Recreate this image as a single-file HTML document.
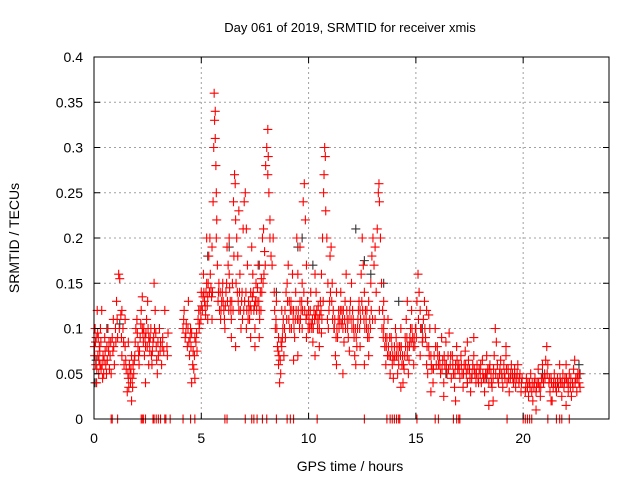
<!DOCTYPE html>
<html><head><meta charset="utf-8"><style>
body{margin:0;background:#fff}
svg{display:block;font-family:"Liberation Sans",sans-serif}
</style></head><body>
<svg id="chart" width="640" height="480">
<rect width="640" height="480" fill="#fff"/>
<g id="grid"></g>
<g id="marks"></g>
<rect x="94" y="57" width="515" height="362" fill="none" stroke="#000" stroke-width="1"/>
<g id="ticks"></g>
<text x="350" y="32" font-size="13" text-anchor="middle">Day 061 of 2019, SRMTID for receiver xmis</text>
<text x="350" y="471" font-size="14" text-anchor="middle">GPS time / hours</text>
<text x="19" y="238" font-size="14" text-anchor="middle" transform="rotate(-90 19 238)">SRMTID / TECUs</text>
</svg>
<script>
const xTicks=[0,5,10,15,20];
const yTicks=[0,0.05,0.1,0.15,0.2,0.25,0.3,0.35,0.4];
const yTickLabels=["0","0.05","0.1","0.15","0.2","0.25","0.3","0.35","0.4"];
const blackPts=[[0.05,.04],[0.1,.065],[0.6,.1],[1.2,.105],[5.3,.18],[6.3,.19],[7.7,.17],[9.5,.19],[9.7,.2],[10.2,.17],[12.2,.21],[12.6,.175],[12.9,.16],[13.5,.15],[14.2,.13],[15.3,.1],[16.4,.05],[17.4,.04],[18.3,.045],[19.6,.05],[20.9,.05],[21.6,.04],[22.6,.06],[22.65,.05],[8.5,.14]];
const zeroTimes=[0.8,0.85,1.1,2.2,2.25,2.3,2.4,2.75,2.8,2.9,3.0,3.1,3.3,3.35,3.55,4.15,4.5,4.7,6.1,6.2,7.05,7.35,7.45,7.6,7.85,8.05,8.5,9.0,9.15,9.3,10.4,12.6,13.65,13.8,13.9,14.0,14.1,14.2,14.25,15.05,15.9,16.05,16.75,16.9,17.0,17.05,19.25,20.0,20.1,20.2,20.3,20.4,21.15,21.55,21.7,21.8,22.15];
const redPts=[[0.02,.08],[0.05,.1],[0.08,.06],[0.1,.09],[0.12,.04],[0.15,.12],[0.18,.07],[0.2,.09],[0.22,.05],[0.25,.08],[0.28,.06],[0.3,.1],[0.33,.055],[0.36,.12],[0.4,.045],[0.42,.07],[0.45,.05],[0.5,.09],[0.55,.06],[0.6,.08],[0.65,.1],[0.7,.085],[0.75,.07],[0.8,.05],[0.85,.09],[0.9,.11],[0.95,.06],
[1.0,.1],[1.05,.13],[1.1,.09],[1.15,.16],[1.2,.155],[1.25,.115],[1.3,.07],[1.35,.1],[1.4,.06],[1.45,.08],[1.5,.055],[1.55,.03],[1.6,.045],[1.65,.06],[1.7,.04],[1.75,.02],[1.8,.035],[1.85,.05],[1.9,.07],[1.95,.1],[1.75,.07],[1.6,.085],[1.45,.11],[1.3,.12],
[2.0,.11],[2.05,.08],[2.1,.06],[2.15,.09],[2.2,.12],[2.25,.1],[2.3,.085],[2.35,.07],[2.4,.08],[2.45,.11],[2.5,.13],[2.55,.09],[2.6,.075],[2.65,.1],[2.7,.06],[2.75,.085],[2.8,.15],[2.85,.12],[2.9,.08],[2.95,.05],[3.0,.07],[2.4,.04],[2.55,.06],[2.25,.135],
[3.05,.1],[3.1,.085],[3.15,.06],[3.2,.09],[3.25,.075],[3.3,.12],[3.4,.08],[3.45,.095],[3.42,.07],
[4.15,.1],[4.2,.12],[4.25,.09],[4.3,.105],[4.35,.08],[4.4,.13],[4.45,.07],[4.5,.1],[4.55,.095],[4.6,.06],[4.65,.055],[4.7,.09],[4.75,.085],[4.8,.075],[4.85,.11],[4.9,.1],[4.95,.12],[4.55,.04],[4.7,.045],
[5.0,.14],[5.05,.12],[5.1,.16],[5.15,.13],[5.2,.115],[5.25,.15],[5.3,.135],[5.35,.18],[5.4,.2],[5.45,.145],[5.5,.19],[5.55,.24],[5.58,.3],[5.6,.36],[5.62,.33],[5.65,.34],[5.68,.28],[5.7,.25],[5.72,.22],[5.75,.17],[5.8,.14],[5.85,.12],[5.9,.11],[5.95,.13],[5.5,.11],[5.3,.11],[5.65,.31],[5.7,.2],[5.25,.2],
[6.0,.15],[6.05,.12],[6.1,.1],[6.15,.14],[6.2,.19],[6.25,.17],[6.3,.2],[6.35,.13],[6.4,.11],[6.45,.15],[6.5,.24],[6.55,.27],[6.58,.26],[6.6,.22],[6.65,.2],[6.7,.18],[6.75,.12],[6.8,.16],[6.85,.1],[6.9,.14],[6.95,.21],[6.4,.09],[6.6,.08],[6.3,.16],[6.75,.23],
[7.0,.24],[7.05,.25],[7.1,.21],[7.15,.17],[7.2,.13],[7.25,.11],[7.3,.14],[7.35,.19],[7.4,.16],[7.45,.12],[7.5,.1],[7.55,.15],[7.6,.13],[7.65,.17],[7.7,.12],[7.75,.14],[7.8,.155],[7.85,.2],[7.9,.21],[7.95,.185],[7.5,.08],[7.3,.09],[7.1,.1],[7.7,.09],
[8.0,.28],[8.05,.3],[8.1,.32],[8.12,.29],[8.15,.25],[8.2,.22],[8.25,.18],[8.3,.17],[8.35,.2],[8.4,.14],[8.45,.1],[8.5,.13],[8.55,.08],[8.6,.06],[8.65,.04],[8.7,.05],[8.75,.08],[8.8,.1],[8.85,.07],[8.9,.12],[8.95,.14],[8.1,.27],[8.2,.2],[8.6,.09],[8.75,.12],
[9.0,.15],[9.05,.17],[9.1,.13],[9.15,.12],[9.2,.1],[9.25,.16],[9.3,.12],[9.35,.09],[9.4,.14],[9.45,.2],[9.5,.16],[9.55,.11],[9.6,.13],[9.65,.12],[9.7,.15],[9.75,.24],[9.8,.26],[9.85,.22],[9.9,.17],[9.95,.13],[9.5,.07],[9.3,.065],[9.7,.1],[9.9,.09],[9.6,.19],
[10.0,.12],[10.05,.1],[10.1,.14],[10.15,.1],[10.2,.085],[10.25,.12],[10.3,.16],[10.35,.14],[10.4,.11],[10.45,.125],[10.5,.1],[10.55,.13],[10.6,.16],[10.65,.2],[10.7,.25],[10.72,.27],[10.75,.3],[10.78,.29],[10.8,.23],[10.85,.2],[10.9,.15],[10.95,.12],[10.3,.07],[10.5,.08],[10.6,.095],
[11.0,.18],[11.05,.19],[11.1,.15],[11.15,.12],[11.2,.1],[11.25,.07],[11.3,.06],[11.35,.09],[11.4,.12],[11.45,.11],[11.5,.14],[11.55,.12],[11.6,.1],[11.65,.085],[11.7,.13],[11.75,.16],[11.8,.11],[11.85,.09],[11.9,.075],[11.95,.13],[11.3,.14],[11.6,.05],
[12.0,.15],[12.05,.12],[12.1,.1],[12.15,.07],[12.2,.06],[12.25,.08],[12.3,.11],[12.35,.13],[12.4,.12],[12.45,.16],[12.5,.2],[12.55,.17],[12.6,.14],[12.65,.12],[12.7,.1],[12.75,.09],[12.8,.07],[12.85,.11],[12.9,.15],[12.95,.18],[12.4,.08],[12.6,.06],[12.8,.13],
[13.0,.2],[13.05,.17],[13.1,.19],[13.15,.14],[13.2,.21],[13.25,.25],[13.28,.26],[13.3,.24],[13.35,.2],[13.4,.15],[13.45,.12],[13.5,.1],[13.55,.08],[13.6,.06],[13.65,.09],[13.7,.11],[13.75,.07],[13.8,.05],[13.85,.09],[13.9,.06],[13.95,.045],[13.1,.11],[13.3,.12],[13.5,.13],
[14.0,.08],[14.05,.1],[14.1,.07],[14.15,.05],[14.2,.06],[14.25,.08],[14.3,.1],[14.35,.06],[14.4,.04],[14.45,.055],[14.5,.09],[14.55,.11],[14.6,.07],[14.65,.05],[14.7,.08],[14.75,.1],[14.8,.12],[14.85,.09],[14.9,.06],[14.95,.08],[14.3,.035],[14.6,.13],
[15.0,.1],[15.05,.13],[15.1,.16],[15.15,.14],[15.2,.12],[15.25,.1],[15.3,.085],[15.35,.11],[15.4,.13],[15.45,.09],[15.5,.06],[15.55,.05],[15.6,.08],[15.65,.1],[15.7,.07],[15.75,.055],[15.8,.04],[15.85,.07],[15.9,.1],[15.95,.06],[15.2,.07],[15.5,.12],[15.7,.03],[15.6,.115],
[16.0,.08],[16.05,.06],[16.1,.07],[16.15,.05],[16.2,.09],[16.25,.065],[16.3,.04],[16.35,.06],[16.4,.085],[16.45,.05],[16.5,.07],[16.55,.095],[16.6,.06],[16.65,.045],[16.7,.07],[16.75,.05],[16.8,.035],[16.85,.06],[16.9,.08],[16.95,.055],[16.3,.025],[16.85,.02],
[17.0,.06],[17.05,.045],[17.1,.07],[17.15,.05],[17.2,.035],[17.25,.06],[17.3,.075],[17.35,.05],[17.4,.04],[17.45,.065],[17.5,.055],[17.55,.03],[17.6,.045],[17.65,.06],[17.7,.07],[17.75,.05],[17.8,.04],[17.85,.06],[17.9,.045],[17.95,.055],[17.4,.085],[17.7,.09],
[18.0,.05],[18.05,.04],[18.1,.065],[18.15,.045],[18.2,.03],[18.25,.05],[18.3,.07],[18.35,.055],[18.4,.04],[18.45,.06],[18.5,.05],[18.55,.035],[18.6,.045],[18.65,.07],[18.7,.1],[18.75,.085],[18.8,.06],[18.85,.04],[18.9,.05],[18.95,.065],[18.4,.015],[18.6,.02],
[19.0,.05],[19.05,.035],[19.1,.06],[19.15,.045],[19.2,.07],[19.25,.04],[19.3,.055],[19.35,.03],[19.4,.045],[19.45,.06],[19.5,.05],[19.55,.04],[19.6,.055],[19.65,.035],[19.7,.045],[19.75,.06],[19.8,.04],[19.85,.05],[19.9,.03],[19.95,.045],[19.2,.08],
[20.1,.03],[20.15,.045],[20.2,.035],[20.25,.025],[20.3,.04],[20.35,.05],[20.4,.03],[20.45,.02],[20.5,.035],[20.55,.045],[20.6,.03],[20.65,.04],[20.7,.055],[20.75,.035],[20.8,.025],[20.85,.045],[20.9,.06],[20.95,.04],[20.6,.01],
[21.0,.05],[21.05,.065],[21.1,.08],[21.15,.06],[21.2,.04],[21.25,.03],[21.3,.045],[21.35,.02],[21.4,.035],[21.45,.05],[21.5,.04],[21.55,.03],[21.6,.045],[21.65,.035],[21.7,.06],[21.75,.04],[21.8,.025],[21.85,.05],[21.9,.035],[21.95,.045],[22.0,.06],[22.05,.04],[22.1,.03],[22.15,.05],[22.2,.035],[22.25,.025],[22.3,.04],[22.35,.055],[22.4,.065],[22.45,.045],[22.5,.03],[22.55,.05],[22.6,.04],[22.65,.035],[21.3,.02],[22.0,.015]];
const redPts2=[[0.03,.07],[0.07,.085],[0.13,.055],[0.17,.095],[0.23,.065],[0.27,.075],[0.32,.085],[0.38,.06],[0.47,.065],[0.52,.075],[0.58,.05],[0.62,.065],[0.68,.075],[0.72,.055],[0.78,.085],[0.88,.075],[0.92,.08],
[1.02,.085],[1.08,.11],[1.18,.1],[1.28,.09],[1.38,.085],[1.48,.065],[1.58,.05],[1.62,.035],[1.68,.05],[1.72,.055],[1.78,.045],[1.82,.06],[1.88,.065],[1.92,.085],
[2.02,.095],[2.08,.07],[2.12,.075],[2.18,.105],[2.28,.095],[2.32,.1],[2.38,.09],[2.42,.095],[2.48,.08],[2.52,.1],[2.58,.085],[2.62,.09],[2.68,.07],[2.72,.075],[2.78,.09],[2.82,.1],[2.88,.095],[2.92,.065],[2.98,.085],[3.08,.075],[3.18,.08],
[4.18,.11],[4.28,.095],[4.38,.1],[4.42,.085],[4.48,.09],[4.52,.08],[4.62,.075],[4.68,.07],[4.78,.095],[4.88,.12],[4.92,.105],[4.98,.11],
[5.02,.125],[5.08,.135],[5.12,.14],[5.18,.125],[5.22,.14],[5.28,.125],[5.32,.15],[5.38,.14],[5.42,.16],[5.48,.135],[5.52,.14],[5.78,.13],[5.82,.15],[5.88,.14],[5.92,.12],[5.98,.14],
[6.02,.13],[6.08,.11],[6.12,.125],[6.18,.15],[6.22,.13],[6.28,.12],[6.32,.145],[6.38,.12],[6.42,.13],[6.48,.12],[6.52,.18],[6.62,.15],[6.68,.14],[6.72,.13],[6.78,.14],[6.82,.12],[6.88,.13],[6.92,.11],[6.98,.12],
[7.02,.13],[7.08,.14],[7.12,.12],[7.18,.11],[7.22,.12],[7.28,.125],[7.32,.12],[7.38,.135],[7.42,.14],[7.48,.125],[7.52,.13],[7.58,.12],[7.62,.145],[7.68,.13],[7.72,.11],[7.78,.12],[7.82,.14],[7.88,.15],[7.92,.16],[7.98,.17],
[8.42,.12],[8.48,.11],[8.52,.1],[8.58,.075],[8.62,.07],[8.68,.065],[8.72,.085],[8.78,.09],[8.82,.11],[8.88,.1],[8.92,.09],[8.98,.11],
[9.02,.13],[9.08,.11],[9.12,.1],[9.18,.13],[9.22,.12],[9.28,.11],[9.32,.1],[9.38,.11],[9.42,.12],[9.48,.11],[9.52,.12],[9.58,.1],[9.62,.11],[9.68,.13],[9.72,.12],[9.78,.14],[9.82,.12],[9.88,.11],[9.92,.115],[9.98,.1],
[10.02,.11],[10.08,.12],[10.12,.105],[10.18,.11],[10.22,.1],[10.28,.11],[10.32,.115],[10.38,.12],[10.42,.1],[10.48,.11],[10.52,.115],[10.58,.12],[10.62,.11],[10.68,.13],[10.88,.11],[10.92,.1],[10.98,.13],
[11.02,.14],[11.08,.13],[11.12,.11],[11.18,.1],[11.22,.11],[11.28,.09],[11.32,.1],[11.38,.11],[11.42,.1],[11.48,.12],[11.52,.105],[11.58,.11],[11.62,.12],[11.68,.11],[11.72,.1],[11.78,.12],[11.82,.1],[11.88,.11],[11.92,.12],[11.98,.11],
[12.02,.1],[12.08,.11],[12.12,.09],[12.18,.1],[12.22,.09],[12.28,.1],[12.32,.12],[12.38,.1],[12.42,.11],[12.48,.13],[12.52,.12],[12.58,.11],[12.62,.1],[12.68,.11],[12.72,.12],[12.78,.1],[12.82,.09],[12.88,.1],[12.92,.12],[12.98,.11],
[13.42,.1],[13.48,.09],[13.52,.11],[13.58,.09],[13.62,.08],[13.68,.07],[13.72,.08],[13.78,.09],[13.82,.07],[13.88,.08],[13.92,.07],[13.98,.065],
[14.02,.07],[14.08,.09],[14.12,.08],[14.18,.07],[14.22,.08],[14.28,.07],[14.32,.08],[14.38,.07],[14.42,.06],[14.48,.07],[14.52,.08],[14.58,.09],[14.62,.08],[14.68,.065],[14.72,.09],[14.78,.085],[14.82,.1],[14.88,.08],[14.92,.09],[14.98,.1],
[15.02,.09],[15.12,.11],[15.22,.1],[15.32,.09],[15.42,.1],[15.52,.08],[15.62,.07],[15.72,.06],[15.82,.055],[15.92,.08],
[16.02,.07],[16.12,.06],[16.22,.055],[16.32,.07],[16.42,.06],[16.52,.055],[16.62,.07],[16.72,.06],[16.82,.05],[16.92,.065],
[17.02,.055],[17.12,.06],[17.22,.05],[17.32,.06],[17.42,.055],[17.52,.045],[17.62,.05],[17.72,.055],[17.82,.05],[17.92,.04],
[18.02,.06],[18.12,.05],[18.22,.045],[18.32,.05],[18.42,.055],[18.52,.04],[18.62,.055],[18.72,.05],[18.82,.045],[18.92,.055],
[19.02,.045],[19.12,.05],[19.22,.055],[19.32,.045],[19.42,.05],[19.52,.045],[19.62,.045],[19.72,.05],[19.82,.045],[19.92,.04],
[20.12,.035],[20.22,.04],[20.32,.035],[20.42,.04],[20.52,.04],[20.62,.035],[20.72,.04],[20.82,.035],[20.92,.045],
[21.02,.045],[21.12,.05],[21.22,.045],[21.32,.04],[21.42,.04],[21.52,.035],[21.62,.04],[21.72,.045],[21.82,.04],[21.92,.04],[22.02,.045],[22.12,.04],[22.22,.045],[22.32,.035],[22.42,.04],[22.52,.045],[22.62,.05]];

const X0=94,X1=609,Y0=419,Y1=57,XMAX=24,YMAX=0.4;
function xs(t){return X0+(X1-X0)*t/XMAX;}
function ys(v){return Y0-(Y0-Y1)*v/YMAX;}
const NS='http://www.w3.org/2000/svg';
const grid=document.getElementById('grid'),ticks=document.getElementById('ticks'),marks=document.getElementById('marks');
function mk(tag,attrs,parent){const e=document.createElementNS(NS,tag);for(const k in attrs)e.setAttribute(k,attrs[k]);parent.appendChild(e);return e;}
xTicks.forEach(t=>{
  const x=xs(t);
  if(t>0){const g=mk('line',{x1:x,x2:x,y1:Y0,y2:Y1,stroke:'#a0a0a0','stroke-dasharray':'2,3'},grid);
  
  }
  const tk=mk('path',{d:`M${x},${Y0}v-6M${x},${Y1}v6`,stroke:'#000'},ticks);
  
  
  const lb=mk('text',{x:x,y:Y0+24,'font-size':14,'text-anchor':'middle'},ticks);
  lb.textContent=String(t);
  
  
});
yTicks.forEach((v,i)=>{
  const y=ys(v);
  if(i>0&&i<yTicks.length-1){const g=mk('line',{x1:X0,x2:X1,y1:y,y2:y,stroke:'#a0a0a0','stroke-dasharray':'2,3'},grid);
  
  }
  const tk=mk('path',{d:`M${X0},${y}h6M${X1},${y}h-6`,stroke:'#000'},ticks);
  
  
  const lb=mk('text',{x:X0-11,y:y+5,'font-size':14,'text-anchor':'end'},ticks);
  lb.textContent=yTickLabels[i];
  
  
});
function cross(t,v,col,name){
  const x=xs(t),y=ys(v);
  const p=mk('path',{d:`M${x-4.5},${y}h9M${x},${y-4.5}v9`,stroke:col,'stroke-width':1.1,fill:'none'},marks);
  
  
}
blackPts.forEach(p=>cross(p[0],p[1],'#333','black-point'));
zeroTimes.forEach(t=>cross(t,0,'#f00','zero-point'));
redPts2.forEach(p=>cross(p[0],p[1],'#f00','red-point'));
redPts.forEach(p=>cross(p[0],p[1],'#f00','red-point'));
</script>
</body></html>
